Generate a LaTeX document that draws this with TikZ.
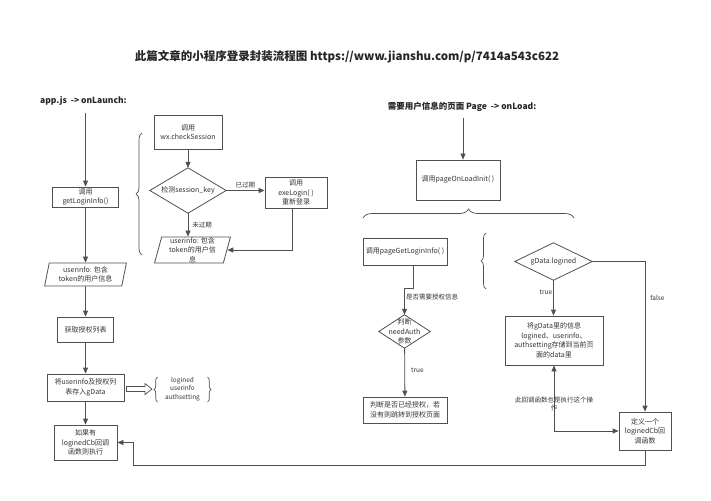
\documentclass[tikz,border=0pt]{standalone}
\usepackage{fontspec}
\setmainfont{Noto Sans CJK SC}
\usetikzlibrary{arrows.meta,shapes.geometric,decorations.pathreplacing}
\definecolor{lncol}{HTML}{505050}
\definecolor{txcol}{HTML}{333333}
\begin{document}
\begin{tikzpicture}[x=1pt,y=-1pt,
  font=\fontsize{7}{9.5}\selectfont, text=txcol,
  box/.style 2 args={draw=lncol, line width=0.8pt, align=center, inner sep=0pt, minimum width=#1, minimum height=#2},
  para/.style 2 args={trapezium, trapezium left angle=78, trapezium right angle=102, trapezium stretches=true, draw=lncol, line width=0.8pt, align=center, inner sep=0pt, minimum width=#1, minimum height=#2},
  dia/.style 2 args={align=center, inner sep=0pt, minimum width=#1, minimum height=#2,
    append after command={\pgfextra{\draw[draw=lncol, line width=0.8pt] (\tikzlastnode.north) -- (\tikzlastnode.east) -- (\tikzlastnode.south) -- (\tikzlastnode.west) -- cycle;}}},
  arr/.style={draw=lncol, line width=0.8pt, -{Triangle[length=6pt,width=5pt]}},
  hollow/.style={draw=lncol, line width=0.7pt, fill=white, line join=miter},
  lab/.style={font=\fontsize{6.5}{8}\selectfont, inner sep=1pt},
  hd/.style={font=\fontsize{8.5}{10}\selectfont\bfseries, text=black!85},
  brc/.style 2 args={draw=lncol, line width=0.7pt, decorate, decoration={brace, amplitude=#1, aspect=#2}}
]
\useasboundingbox (0,0) rectangle (711,500);
\fill[white] (0,0) rectangle (711,500);

% title and headings
\node[font=\fontsize{11.5}{13}\selectfont\bfseries, text=black!85] (title) at (347,57) {此篇文章的小程序登录封装流程图 https://www.jianshu.com/p/7414a543c622};
\node[hd, anchor=west, inner sep=0pt] (h1) at (40,101) {app.js\ \ -> onLaunch:};
\node[hd, inner sep=0pt] (h2) at (462,107) {需要用户信息的页面 Page\ \ -> onLoad:};

% left column
\coordinate (s1) at (85.5,113);
\node[box={66}{20}] (gl) at (85.5,197) {调用\\getLoginInfo()};
\node[para={82}{23}] (u1) at (85.5,274.5) {userinfo: 包含\\token的用户信息};
\node[box={56}{25}] (auth) at (85.5,329.5) {获取授权列表};
\node[box={77}{27}] (gd) at (85.5,387.5) {将userinfo及授权列\\表存入gData};
\node[box={63}{35}] (cb) at (85.5,442.5) {如果有\\loginedCb回调\\函数则执行};
\node[lab, align=center, font=\fontsize{6.5}{8.5}\selectfont] (lg) at (182.5,389) {logined\\userinfo\\authsetting};
\coordinate (da) at (126.5,389);
\draw[hollow] (da) ++(0,-2.5) -- ++(18.5,0) -- ++(0,-3) -- ++(7,5.5) -- ++(-7,5.5) -- ++(0,-3) -- ++(-18.5,0) -- cycle;

\draw[arr] (s1) -- (s1 |- gl.north);
\draw[arr] (gl) -- (u1);
\draw[arr] (u1) -- (auth);
\draw[arr] (auth) -- (gd);
\draw[arr] (gd) -- (cb);
\draw[brc={3.5pt}{0.5}] (157.5,402) -- (157.5,377);
\draw[brc={3.5pt}{0.5}] (207.5,377) -- (207.5,402);

% middle
\draw[brc={6pt}{0.5}] (142,255) -- (142,133);
\node[box={68}{34}] (cs) at (188,132) {调用\\wx.checkSession};
\node[dia={76}{45}] (sk) at (188,190.5) {检测session\_key};
\node[box={62}{31}] (ex) at (296,192.5) {调用\\exeLogin( )\\重新登录};
\node[para={76}{26}] (u2) at (192.5,250) {userinfo: 包含\\token的用户信\\息};

\draw[arr] (cs) -- (sk);
\draw[arr] (sk.east) -- node[lab, above=1pt] (l1) {已过期} (sk.east -| ex.west);
\draw[arr] (sk.south) -- node[lab, right=3pt] (l2) {未过期} (sk.south |- u2.north);
\draw[arr] ([xshift=-4pt]ex.south) |- (u2.east);

% right
\coordinate (s2) at (463,118);
\node[box={84}{40}] (po) at (458,180) {调用pageOnLoadInit( )};
\draw[arr] (s2) -- (s2 |- po.north);
\draw[brc={9pt}{0.5}] (363,218) -- (574,218);

\node[box={84}{27}] (pg) at (405,251.5) {调用pageGetLoginInfo( )};
\node[dia={51}{33}] (na) at (404.5,331.5) {判断\\needAuth\\参数};
\node[box={84}{26}] (ja) at (405,410) {判断是否已经授权，若\\没有则跳转到授权页面};
\draw[arr] ([xshift=8pt]pg.south) -- ++(0,23) -| (na.north);
\node[lab, anchor=west] (l3) at (405,297) {是否需要授权信息};
\draw[arr] (na) -- node[lab, pos=0.45, right=5pt] (l4) {true} (ja);

\draw[brc={5pt}{0.5}] (486,289) -- (486,233);
\node[dia={77}{37}] (gl2) at (553.5,261.5) {gData.logined};
\node[box={98}{49}] (sv) at (554,340.5) {将gData里的信息\\logined、userinfo、\\authsetting存储到当前页\\面的data里};
\node[box={52}{38}] (lc) at (645,431) {定义一个\\loginedCb回\\调函数};

\draw[arr] (gl2.south) -- node[lab, pos=0.33, left=0pt] (l5) {true} (gl2.south |- sv.north);
\draw[arr] (gl2.east) -| node[lab, pos=0.62, right=4pt] (l6) {false} (lc.north);
\draw[arr, {Triangle[length=6pt,width=5pt]}-{Triangle[length=6pt,width=5pt]}] (sv.south) |- (lc.west);
\node[lab, align=center] (l7) at (554,404) {此回调函数也是执行这个操\\作};
\draw[arr] (lc.south) -- ++(0,15) -| ([xshift=16pt]cb.east) -- (cb.east);
\end{tikzpicture}
\end{document}
